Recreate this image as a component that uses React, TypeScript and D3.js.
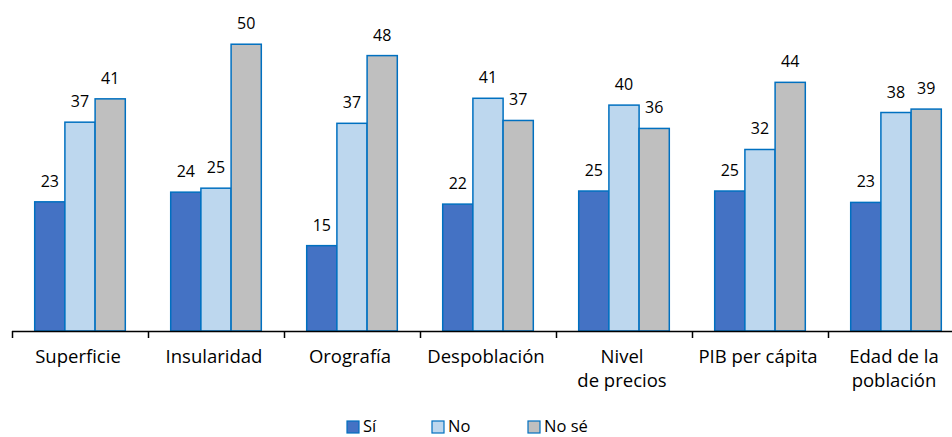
import React, { useEffect, useRef } from "react";
import * as d3 from "d3";

const categories: string[][] = [
  ["Superficie"],
  ["Insularidad"],
  ["Orografía"],
  ["Despoblación"],
  ["Nivel", "de precios"],
  ["PIB per cápita"],
  ["Edad de la", "población"],
];
const seriesNames = ["Sí", "No", "No sé"];
const si = [22.7, 24.4, 15.0, 22.3, 24.6, 24.6, 22.6];
const no = [36.7, 25.1, 36.5, 40.9, 39.7, 31.9, 38.4];
const nose = [40.8, 50.4, 48.4, 37.0, 35.6, 43.7, 39.0];
const seriesValues = [si, no, nose];
const fills = ["#4472C4", "#BDD7EE", "#BFBFBF"];
const stroke = "#0070C0";

const W = 952;
const H = 437;
const FONT = "'Open Sans', sans-serif";

export default function App() {
  const ref = useRef<SVGSVGElement | null>(null);
  useEffect(() => {
    document.body.style.margin = "0";
    const svg = d3.select(ref.current);
    svg.selectAll("*").remove();

    const baseY = 331;
    const y = d3.scaleLinear().domain([0, 55]).range([baseY, baseY - 5.69 * 55]);
    const keys = categories.map((c) => c.join(" "));
    const x0 = d3.scaleBand<string>().domain(keys).range([12, 12 + 136 * keys.length]);
    const x1 = d3.scaleBand<string>().domain(seriesNames).range([22.7, 113.3]);

    const g = svg.append("g");
    seriesNames.forEach((s, si_) => {
      seriesValues[si_].forEach((v, i) => {
        const bx = (x0(keys[i]) as number) + (x1(s) as number);
        const bw = x1.bandwidth();
        g.append("rect")
          .attr("x", bx)
          .attr("y", y(v))
          .attr("width", bw)
          .attr("height", baseY - y(v))
          .attr("fill", fills[si_])
          .attr("stroke", stroke)
          .attr("stroke-width", 1.5);
        g.append("text")
          .attr("x", bx + bw / 2)
          .attr("y", y(v) - 15)
          .attr("text-anchor", "middle")
          .attr("font-family", FONT)
          .attr("font-size", 16)
          .attr("fill", "#000")
          .text(Math.round(v));
      });
    });

    // axis
    svg.append("line")
      .attr("x1", 12).attr("x2", W)
      .attr("y1", baseY + 0.5).attr("y2", baseY + 0.5)
      .attr("stroke", "#000").attr("stroke-width", 1.5);
    keys.forEach((k) => {
      const tx = Math.round(x0(k) as number) + 0.5;
      svg.append("line")
        .attr("x1", tx).attr("x2", tx)
        .attr("y1", baseY).attr("y2", baseY + 7)
        .attr("stroke", "#000").attr("stroke-width", 1.5);
    });
    categories.forEach((lines, i) => {
      const cx = (x0(keys[i]) as number) + x0.bandwidth() / 2 - 2;
      const t = svg.append("text")
        .attr("text-anchor", "middle")
        .attr("font-family", FONT)
        .attr("font-size", 18.5)
        .attr("fill", "#000");
      lines.forEach((ln, j) => {
        t.append("tspan").attr("x", cx).attr("y", 363 + j * 24).text(ln);
      });
    });

    // legend
    const legX = [347, 432, 528];
    seriesNames.forEach((s, i) => {
      svg.append("rect")
        .attr("x", legX[i]).attr("y", 421)
        .attr("width", 12).attr("height", 12)
        .attr("fill", fills[i])
        .attr("stroke", stroke).attr("stroke-width", 1.2);
      svg.append("text")
        .attr("x", legX[i] + 16).attr("y", 432)
        .attr("font-family", FONT)
        .attr("font-size", 16.5)
        .attr("fill", "#000")
        .text(s);
    });
  }, []);
  return (
    <svg
      ref={ref}
      width={W}
      height={H}
      style={{ position: "absolute", left: 0, top: 0, background: "#fff" }}
    />
  );
}
